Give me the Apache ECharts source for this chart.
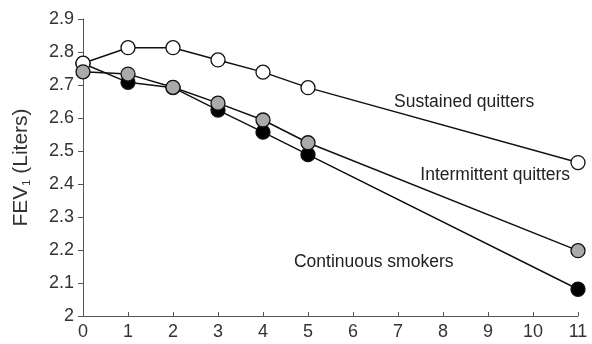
<!DOCTYPE html>
<html><head><meta charset="utf-8">
<script src="https://cdn.jsdelivr.net/npm/echarts@6/dist/echarts.min.js"></script>
<style>html,body{margin:0;padding:0;background:#fff}#c{width:592px;height:344px}</style>
</head><body><div id="c"></div>
<script>
var years = [0, 1, 2, 3, 4, 5, 11];
var sustained = [2.766, 2.813, 2.813, 2.776, 2.739, 2.692, 2.465];
var intermittent = [2.740, 2.733, 2.693, 2.645, 2.594, 2.525, 2.198];
var continuous = [2.765, 2.708, 2.692, 2.624, 2.557, 2.489, 2.081];
var xTicks = [0,1,2,3,4,5,6,7,8,9,10,11];
var seriesLabels = ['Sustained quitters', 'Intermittent quitters', 'Continuous smokers'];
var labelAnchors = [[8.47, 2.649], [9.16, 2.427], [6.46, 2.164]];

function pairs(v){ return years.map(function(x,i){ return [x, v[i]]; }); }
var chart = echarts.init(document.getElementById('c'));
function ser(name, data, fill, z){
  return {name:name, type:'line', data:pairs(data), symbol:'circle', symbolSize:14, z:z,
    lineStyle:{color:'#111', width:1.5}, itemStyle:{color:fill, borderColor:'#111', borderWidth:1.3},
    emphasis:{disabled:true}, animation:false};
}
var font = 'Liberation Sans, Arial, sans-serif';
chart.setOption({
  animation:false,
  grid:{left:83, right:14, top:19, bottom:28, containLabel:false, outerBoundsMode:'none'},
  xAxis:{type:'value', min:0, max:11, interval:1,
    axisLine:{lineStyle:{color:'#555', width:1}}, axisTick:{inside:true, length:4, lineStyle:{color:'#555'}},
    splitLine:{show:false}, axisLabel:{color:'#333', fontSize:18, fontFamily:font, margin:7,
      formatter:function(v){ return xTicks.indexOf(v) >= 0 ? String(v) : ''; }}},
  yAxis:{type:'value', min:2, max:2.9, interval:0.1,
    axisLine:{show:true, lineStyle:{color:'#555', width:1}}, axisTick:{show:true, length:5, lineStyle:{color:'#555'}},
    splitLine:{show:false}, axisLabel:{color:'#333', fontSize:18, fontFamily:font, margin:9,
      formatter:function(v){ return (Math.round(v*10)/10).toString(); }},
    name:'{a|FEV}{s|1}{a| (Liters)}', nameLocation:'middle', nameGap:51, nameRotate:90,
    nameTextStyle:{rich:{a:{fontSize:21, color:'#333', fontFamily:font}, s:{fontSize:11, color:'#333', fontFamily:font, verticalAlign:'bottom', padding:[10,0,0,0]}}}},
  series:[
    ser('Continuous smokers', continuous, '#000', 2),
    ser('Sustained quitters', sustained, '#fff', 3),
    ser('Intermittent quitters', intermittent, '#aaa', 4)
  ]
});
var g = seriesLabels.map(function(t,i){
  var p = chart.convertToPixel({gridIndex:0}, labelAnchors[i]);
  return {type:'text', x:p[0], y:p[1], style:{text:t, fill:'#222', fontSize:17.5, fontFamily:font, align:'center', verticalAlign:'middle'}};
});
chart.setOption({graphic:g});
</script></body></html>
